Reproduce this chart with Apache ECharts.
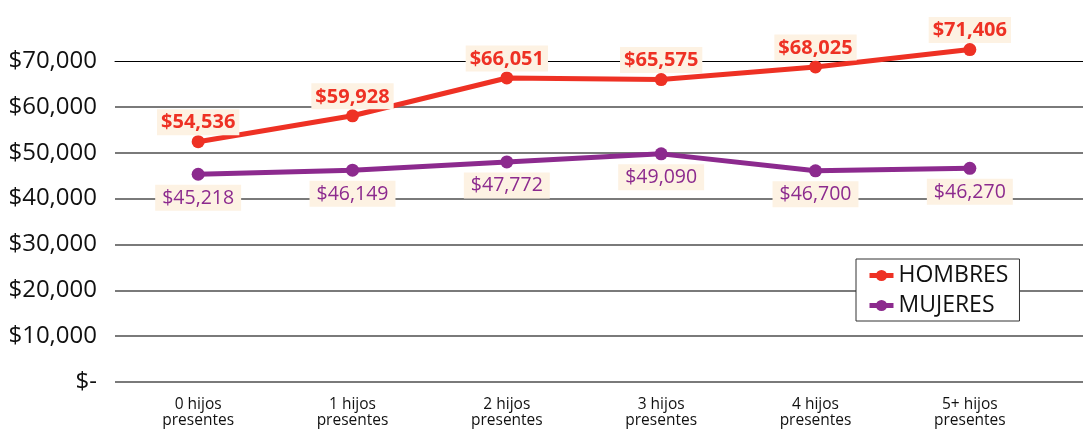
<!DOCTYPE html>
<html>
<head>
<meta charset="utf-8">
<script src="https://cdn.jsdelivr.net/npm/echarts@6/dist/echarts.min.js"></script>
<style>
html,body{margin:0;padding:0;background:#fff;}
#chart{width:1083px;height:431px;}
</style>
</head>
<body>
<div id="chart"></div>
<script>
const categories = ['0 hijos\npresentes','1 hijos\npresentes','2 hijos\npresentes','3 hijos\npresentes','4 hijos\npresentes','5+ hijos\npresentes'];
const hombresValues = [52400, 58050, 66300, 65950, 68700, 72500];
const mujeresValues = [45300, 46200, 48000, 49750, 46050, 46600];
const hombresLabels = ['$54,536','$59,928','$66,051','$65,575','$68,025','$71,406'];
const mujeresLabels = ['$45,218','$46,149','$47,772','$49,090','$46,700','$46,270'];
const yMin = 0, yMax = 70000, yInterval = 10000;

const FONT = '"Open Sans", "Noto Sans", sans-serif';
const RED = '#EE3124';
const PURPLE = '#8C2A8E';
const LABEL_BG = '#FDF2E3';

const chart = echarts.init(document.getElementById('chart'), null, {renderer:'canvas'});
const TOP = 61, BOTTOM = 49;
chart.setOption({
  backgroundColor: '#fff',
  animation: false,
  textStyle: {fontFamily: FONT},
  grid: [
    {left: 115, right: 0, top: TOP, bottom: BOTTOM},
    {left: 121, right: 36, top: TOP, bottom: BOTTOM}
  ],
  legend: {
    orient: 'vertical',
    left: 856, top: 259,
    backgroundColor: '#fff',
    borderColor: '#333',
    borderWidth: 1,
    padding: [5, 11, 4, 11],
    itemGap: 7,
    itemWidth: 24,
    itemHeight: 14,
    lineStyle: {width: 5},
    textStyle: {fontFamily: FONT, fontSize: 23, color: '#111', padding: [0, 0, 0, 0]},
    data: ['HOMBRES', 'MUJERES']
  },
  xAxis: [
    {gridIndex: 0, type: 'value', position: 'top', min: 0, max: 1,
     axisLine: {show: true, onZero: false, lineStyle: {color: '#000', width: 1}},
     axisTick: {show: false}, axisLabel: {show: false}, splitLine: {show: false}},
    {gridIndex: 1, type: 'category', data: categories, boundaryGap: true,
     axisLine: {show: false}, axisTick: {show: false}, splitLine: {show: false},
     axisLabel: {color: '#111', fontFamily: FONT, fontSize: 15.5, lineHeight: 16, margin: 15, interval: 0}}
  ],
  yAxis: [
    {gridIndex: 0, type: 'value', min: yMin, max: yMax, interval: yInterval,
     axisLine: {show: false}, axisTick: {show: false},
     axisLabel: {color: '#111', fontFamily: FONT, fontSize: 24, margin: 18,
       formatter: v => v === 0 ? '$-' : '$' + v.toLocaleString('en-US')},
     splitLine: {show: true, lineStyle: {color: ['#7a7a7a','#7a7a7a','#7a7a7a','#7a7a7a','#7a7a7a','#7a7a7a','#7a7a7a','transparent'], width: 2}}},
    {gridIndex: 1, type: 'value', min: yMin, max: yMax, interval: yInterval, show: false,
     splitLine: {show: false}}
  ],
  series: [
    {name: 'HOMBRES', type: 'line', xAxisIndex: 1, yAxisIndex: 1, data: hombresValues,
     clip: false, symbol: 'circle', symbolSize: 13, z: 5,
     itemStyle: {color: RED}, lineStyle: {color: RED, width: 5},
     label: {show: true, position: 'top', distance: 0,
       formatter: p => hombresLabels[p.dataIndex],
       color: RED, fontFamily: FONT, fontWeight: 'bold', fontSize: 20, lineHeight: 21,
       backgroundColor: LABEL_BG, padding: [3, 4, 2, 4]}},
    {name: 'MUJERES', type: 'line', xAxisIndex: 1, yAxisIndex: 1, data: mujeresValues,
     clip: false, symbol: 'circle', symbolSize: 13, z: 4,
     itemStyle: {color: PURPLE}, lineStyle: {color: PURPLE, width: 5},
     label: {show: true, position: 'bottom', distance: 4,
       formatter: p => mujeresLabels[p.dataIndex],
       color: PURPLE, fontFamily: FONT, fontSize: 19.5, lineHeight: 21,
       backgroundColor: LABEL_BG, padding: [3, 7, 2, 7]}}
  ]
});
</script>
</body>
</html>
